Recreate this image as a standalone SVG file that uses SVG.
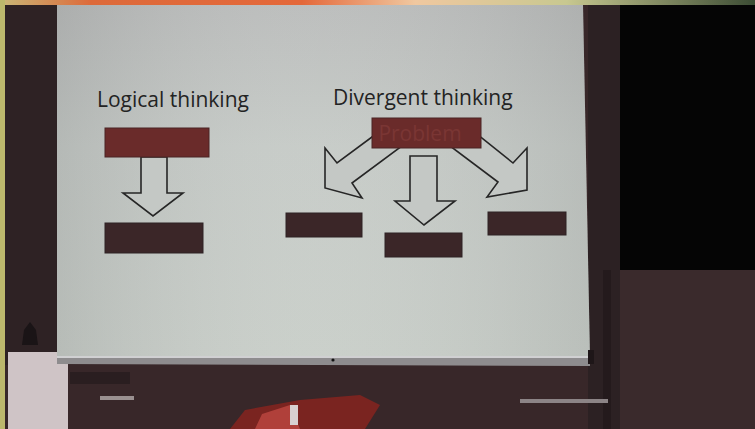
<svg xmlns="http://www.w3.org/2000/svg" width="755" height="429" viewBox="0 0 755 429">
<defs>
<linearGradient id="top" x1="0" y1="0" x2="1" y2="0">
<stop offset="0" stop-color="#c9b878"/>
<stop offset="0.12" stop-color="#dd6a3a"/>
<stop offset="0.4" stop-color="#e4683a"/>
<stop offset="0.55" stop-color="#f0c8a0"/>
<stop offset="0.75" stop-color="#c8c890"/>
<stop offset="1" stop-color="#3c4c34"/>
</linearGradient>
<linearGradient id="scr" x1="0" y1="0" x2="0" y2="1">
<stop offset="0" stop-color="#b7b9b8"/>
<stop offset="0.4" stop-color="#c3c8c4"/>
<stop offset="1" stop-color="#c6ccc6"/>
</linearGradient>
<linearGradient id="scrx" x1="0" y1="0" x2="1" y2="0">
<stop offset="0" stop-color="#8a8c8c" stop-opacity="0.25"/>
<stop offset="0.5" stop-color="#ffffff" stop-opacity="0.08"/>
<stop offset="1" stop-color="#8a8c8c" stop-opacity="0.2"/>
</linearGradient>
<style>
.title{font-family:"Open Sans","Noto Sans","Liberation Sans",sans-serif;font-size:21px;fill:#232323}
.prob{fill:#6a2b2a;stroke:#4a2424;stroke-width:1}
.sol{fill:#3b2628;stroke:#2e2224;stroke-width:1}
.arrow{fill:#c4c8c5;stroke:#262626;stroke-width:1.6;stroke-linejoin:miter}
.ptext{font-family:"Open Sans","Noto Sans","Liberation Sans",sans-serif;font-size:21px;fill:#7a3634;text-anchor:middle}
</style>
</defs>
<!-- room background -->
<rect x="0" y="0" width="755" height="429" fill="#382729"/>
<rect x="620" y="5" width="135" height="265" fill="#050505"/>
<rect x="620" y="270" width="135" height="159" fill="#3a2a2c"/>
<rect x="588" y="5" width="32" height="424" fill="#2c2123"/>
<rect x="603" y="270" width="8" height="159" fill="#241a1c"/>
<rect x="5" y="5" width="53" height="360" fill="#2e2224"/>
<rect x="0" y="0" width="755" height="5" fill="url(#top)"/>
<rect x="0" y="0" width="5" height="429" fill="#bcb86c"/>
<!-- bottom objects -->
<rect x="8" y="352" width="60" height="77" fill="#cfc4c6"/>
<path d="M22,345 L24,330 L30,322 L36,330 L38,345 Z" fill="#1a1416"/>
<rect x="70" y="372" width="60" height="12" fill="#2a1e20"/>
<rect x="100" y="396" width="34" height="4" fill="#9a9090"/>
<rect x="520" y="399" width="88" height="4" fill="#8c8486"/>
<path d="M230,429 L245,410 L300,400 L360,395 L380,405 L365,429 Z" fill="#7a2420"/>
<path d="M255,429 L262,414 L290,405 L300,429 Z" fill="#b0403a"/>
<rect x="290" y="405" width="8" height="20" fill="#d8d0d0"/>
<!-- screen -->
<polygon points="57,5 583,5 590,358 57,356" fill="url(#scr)"/>
<polygon points="57,5 583,5 590,358 57,356" fill="url(#scrx)"/>
<polygon points="57,356 590,358 590,366 57,364" fill="#8e8c8e"/>
<rect x="57" y="356" width="533" height="2" fill="#d0d0d2"/>
<circle cx="333" cy="360" r="1.6" fill="#111"/>
<rect x="588" y="350" width="6" height="14" fill="#1e1618"/>

<!-- titles -->
<text class="title" x="97" y="107">Logical thinking</text>
<text class="title" x="333" y="105">Divergent thinking</text>

<!-- connectors -->
<g id="connectors">
<polygon class="arrow" points="141,157 167,157 167,193 183,193 153,216 123,193 141,193"/>
<polygon class="arrow" points="410,156 437,156 437,201 455,201 424,225 395,201 410,201"/>
<polygon class="arrow" points="325,188 325,148 337,163 376,134 402,146 352,183 362,198"/>
<polygon class="arrow" points="527,190 527,148 513,163 478,135 450,146 498,182 487,197"/>
</g>

<!-- nodes -->
<g id="logical-problem"><rect class="prob" x="105" y="128" width="104" height="29"/></g>
<g id="logical-solution"><rect class="sol" x="105" y="223" width="98" height="30"/></g>
<g id="divergent-problem"><rect class="prob" x="372" y="118" width="109" height="30"/><text class="ptext" x="420" y="141">Problem</text></g>
<g id="solution-left"><rect class="sol" x="286" y="213" width="76" height="24"/></g>
<g id="solution-middle"><rect class="sol" x="385" y="233" width="77" height="24"/></g>
<g id="solution-right"><rect class="sol" x="488" y="212" width="78" height="23"/></g>
</svg>
